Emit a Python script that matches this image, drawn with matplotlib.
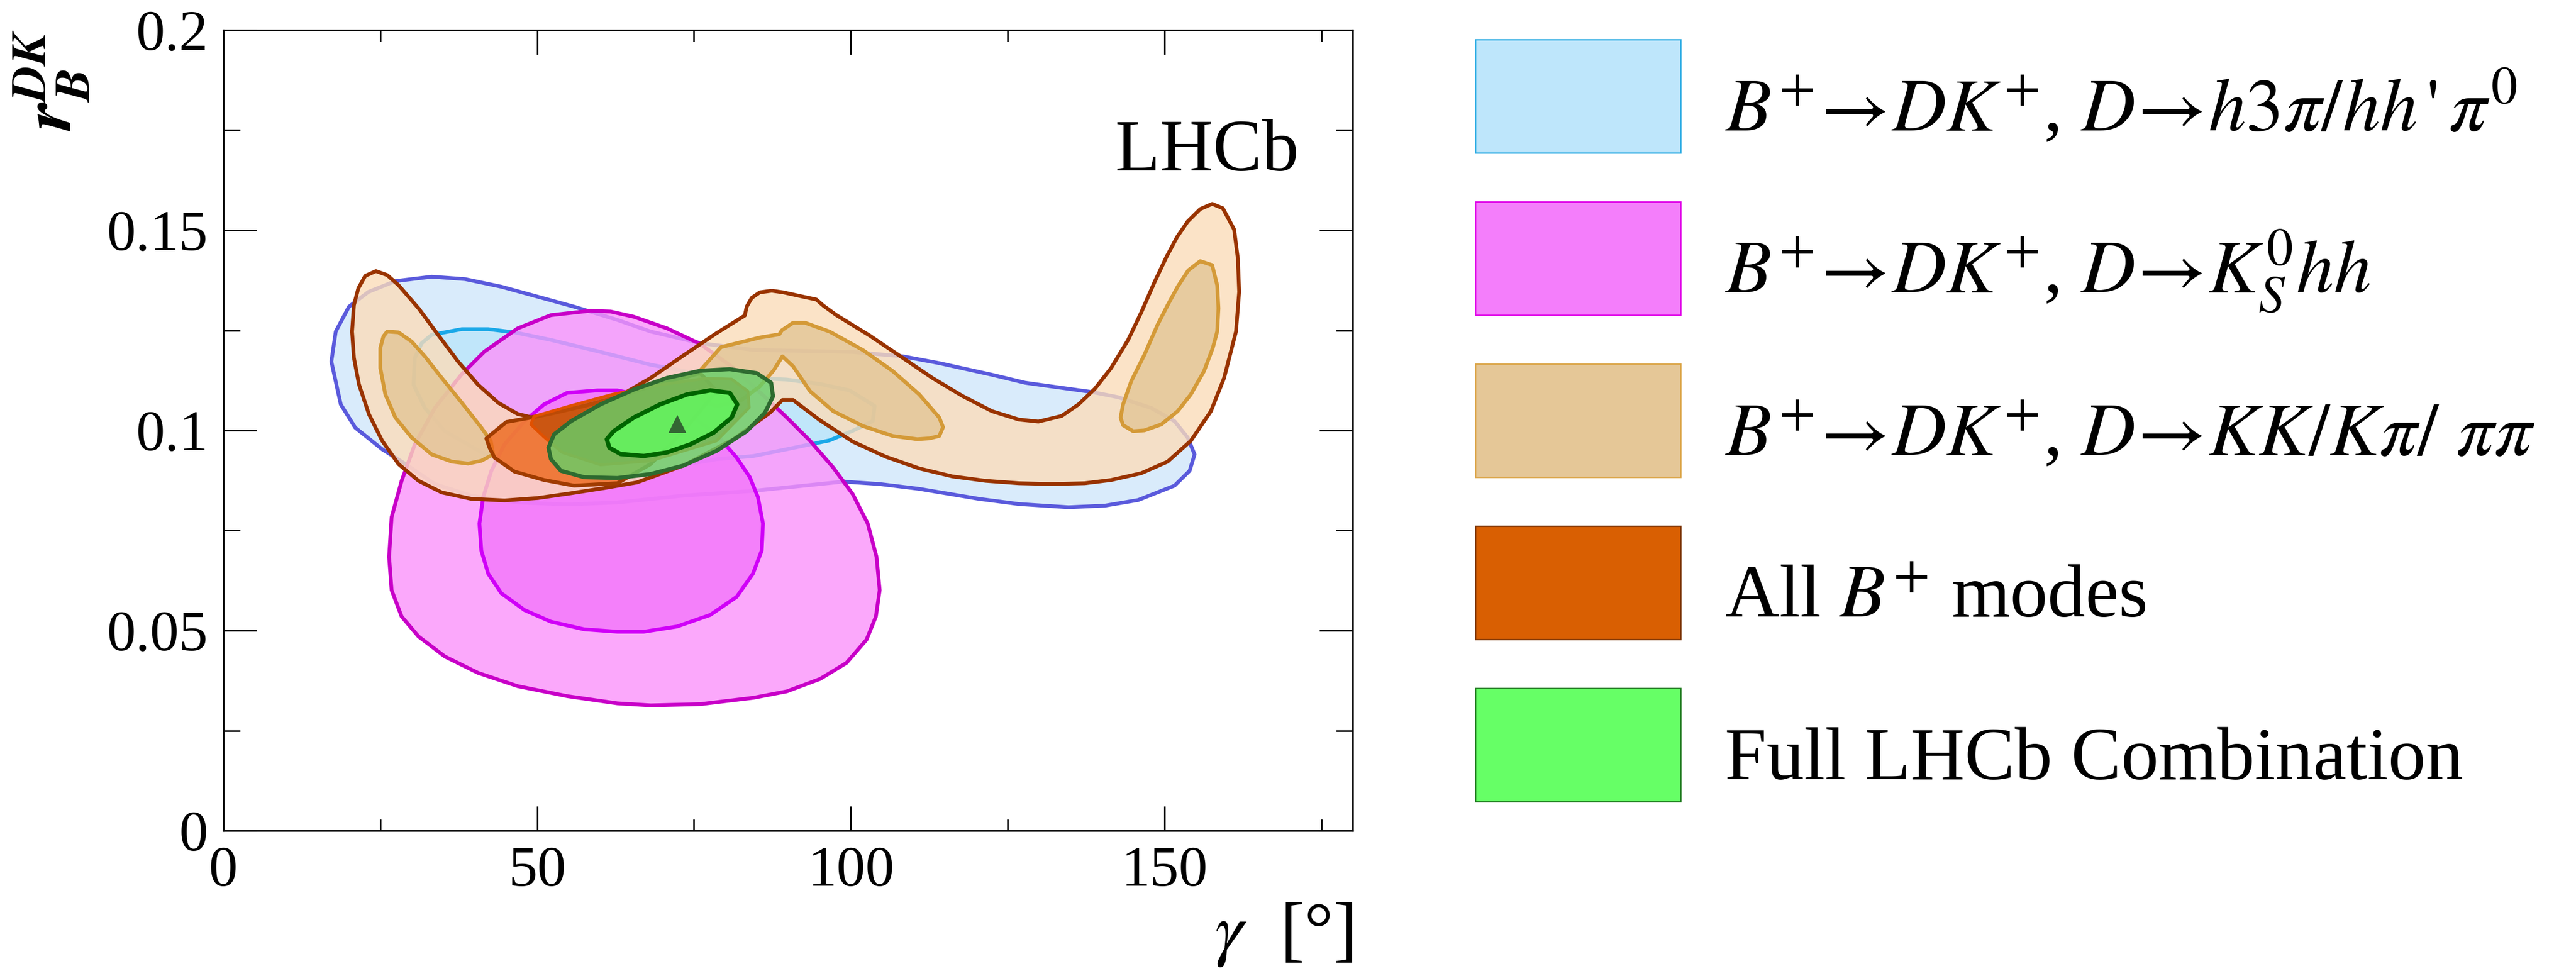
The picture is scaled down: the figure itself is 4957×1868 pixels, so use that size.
import numpy as np
import matplotlib
matplotlib.use("Agg")
import matplotlib.pyplot as plt
from matplotlib.patches import Polygon, Rectangle
from matplotlib.colors import to_rgb

plt.rcParams['font.family'] = ['Liberation Serif', 'DejaVu Serif']
plt.rcParams['mathtext.fontset'] = 'stix'

W, H, DPI = 4957, 1868, 200

# ---- confidence regions, points are (gamma [deg], r_B^DK) ----
# B+ -> DK+, D -> h3pi / hh'pi0
h3pi_2sig = [(17.2, 0.1172), (17.9, 0.1247), (20.0, 0.1309), (23.1, 0.1346), (27.4, 0.1373),
             (33.2, 0.1384), (38.5, 0.1378), (44.3, 0.1359), (50.1, 0.1334), (55.9, 0.1309),
             (62.8, 0.1276), (68.1, 0.1247), (76.0, 0.1218), (84.5, 0.1201), (100.3, 0.1196),
             (108.3, 0.1185), (114.1, 0.1168), (122.5, 0.1139), (127.8, 0.1119), (134.7, 0.1104),
             (138.4, 0.1096), (142.6, 0.1083), (147.9, 0.1056), (151.6, 0.1023), (153.7, 0.0982),
             (154.8, 0.0940), (154.0, 0.0899), (151.6, 0.0862), (145.8, 0.0826), (140.5, 0.0812),
             (134.7, 0.0808), (126.8, 0.0816), (120.4, 0.0829), (110.9, 0.0854), (104.6, 0.0866),
             (98.8, 0.0872), (84.5, 0.0849), (73.3, 0.0837), (62.8, 0.0820), (54.8, 0.0815),
             (46.9, 0.0820), (39.5, 0.0837), (33.7, 0.0866), (29.0, 0.0916), (25.3, 0.0953),
             (21.0, 0.1007), (18.7, 0.1065)]
h3pi_1sig = [(33.2, 0.1239), (38.0, 0.1253), (42.2, 0.1253), (46.4, 0.1245), (52.2, 0.1226),
             (60.1, 0.1196), (68.1, 0.1164), (76.0, 0.1141), (84.5, 0.1131), (89.8, 0.1127),
             (95.1, 0.1116), (99.8, 0.1100), (103.8, 0.1061), (103.5, 0.1023), (100.3, 0.0999),
             (96.6, 0.0975), (89.8, 0.0953), (84.5, 0.0936), (78.6, 0.0928), (70.7, 0.0907),
             (60.1, 0.0891), (49.6, 0.0899), (41.6, 0.0941), (35.3, 0.0998), (32.1, 0.1056),
             (30.3, 0.1114), (30.5, 0.1181), (31.6, 0.1218)]

# B+ -> DK+, D -> KS hh
kshh_2sig = [(58.5, 0.1299), (52.2, 0.1288), (46.9, 0.1255), (41.6, 0.1197), (37.9, 0.1139),
             (33.7, 0.1056), (30.5, 0.0965), (28.4, 0.0874), (26.8, 0.0783), (26.4, 0.0684),
             (26.8, 0.0601), (28.4, 0.0535), (31.1, 0.0485), (35.3, 0.0435), (40.6, 0.0394),
             (46.9, 0.0361), (54.8, 0.0336), (62.8, 0.0318), (68.1, 0.0313), (76.0, 0.0316),
             (84.5, 0.0332), (89.8, 0.0348), (95.1, 0.0379), (99.3, 0.0419), (102.5, 0.0477),
             (104.0, 0.0535), (104.6, 0.0601), (104.1, 0.0684), (102.7, 0.0767), (100.3, 0.0841),
             (97.2, 0.0907), (93.5, 0.0974), (89.8, 0.1032), (86.5, 0.1081), (81.3, 0.1156),
             (76.0, 0.1216), (70.7, 0.1255), (65.4, 0.1284), (61.7, 0.1297)]
kshh_1sig = [(59.6, 0.1100), (54.8, 0.1094), (51.1, 0.1065), (48.0, 0.1023), (44.8, 0.0965),
             (42.7, 0.0899), (41.4, 0.0833), (40.8, 0.0767), (41.1, 0.0700), (42.2, 0.0642),
             (44.3, 0.0593), (48.0, 0.0551), (52.2, 0.0522), (57.5, 0.0503), (62.8, 0.0497),
             (67.0, 0.0497), (72.3, 0.0510), (77.6, 0.0539), (81.8, 0.0584), (84.4, 0.0642),
             (85.8, 0.0700), (86.0, 0.0767), (85.2, 0.0833), (83.9, 0.0883), (81.8, 0.0932),
             (78.6, 0.0990), (74.9, 0.1032), (70.7, 0.1065), (65.9, 0.1090), (62.8, 0.1100)]

# B+ -> DK+, D -> KK / Kpi / pipi
hh_2sig = [(22.6, 0.1386), (24.3, 0.1398), (26.1, 0.1388), (27.9, 0.1363), (31.1, 0.1305),
           (34.2, 0.1239), (37.4, 0.1172), (40.6, 0.1114), (43.8, 0.1069), (46.9, 0.1041),
           (49.0, 0.1033), (52.2, 0.1041), (57.5, 0.1061), (62.8, 0.1083), (68.1, 0.1131),
           (73.3, 0.1187), (78.6, 0.1243), (83.1, 0.1287), (83.4, 0.1309), (84.2, 0.1331),
           (85.5, 0.1345), (87.4, 0.1349), (89.2, 0.1345), (92.4, 0.1334), (94.5, 0.1327),
           (95.6, 0.1312), (97.7, 0.1288), (103.0, 0.1237), (108.3, 0.1181), (113.0, 0.1131),
           (117.8, 0.1086), (122.5, 0.1048), (126.8, 0.1027), (129.9, 0.1022), (133.6, 0.1036),
           (136.3, 0.1065), (138.9, 0.1104), (141.5, 0.1156), (144.2, 0.1226), (146.3, 0.1295),
           (148.4, 0.1370), (150.3, 0.1433), (152.0, 0.1483), (153.7, 0.1522), (155.7, 0.1553),
           (157.6, 0.1566), (159.3, 0.1555), (161.1, 0.1502), (161.7, 0.1429), (161.9, 0.1346),
           (161.4, 0.1247), (159.5, 0.1131), (157.4, 0.1048), (154.2, 0.0974), (150.5, 0.0922),
           (146.3, 0.0893), (141.5, 0.0876), (137.3, 0.0868), (132.0, 0.0866), (126.8, 0.0868),
           (121.5, 0.0874), (116.2, 0.0885), (110.9, 0.0905), (105.6, 0.0934), (100.3, 0.0972),
           (95.1, 0.1025), (90.8, 0.1076), (89.1, 0.1076), (87.1, 0.1044), (81.3, 0.0978),
           (73.3, 0.0912), (65.9, 0.0870), (60.7, 0.0856), (55.4, 0.0843), (50.1, 0.0831),
           (44.8, 0.0825), (39.5, 0.0829), (34.8, 0.0845), (31.1, 0.0874), (27.9, 0.0916),
           (25.3, 0.0974), (23.2, 0.1040), (21.6, 0.1115), (20.8, 0.1181), (20.5, 0.1247),
           (20.8, 0.1313), (21.5, 0.1355)]
hh_1sig_left = [(26.1, 0.1247), (27.9, 0.1245), (30.0, 0.1222), (32.1, 0.1185), (34.8, 0.1131),
                (38.0, 0.1069), (41.1, 0.1007), (42.6, 0.0974), (43.0, 0.0940), (41.1, 0.0924),
                (39.0, 0.0917), (36.4, 0.0922), (33.2, 0.0940), (30.0, 0.0982), (27.4, 0.1032),
                (25.8, 0.1090), (25.0, 0.1156), (25.0, 0.1206), (25.5, 0.1235)]
hh_1sig_mid = [(90.8, 0.1269), (92.7, 0.1269), (96.6, 0.1247), (101.9, 0.1201), (106.7, 0.1148),
               (110.9, 0.1090), (114.1, 0.1032), (114.7, 0.1008), (114.1, 0.0986), (112.5, 0.0980),
               (110.6, 0.0978), (106.7, 0.0986), (101.9, 0.1011), (97.2, 0.1048), (93.5, 0.1098),
               (90.8, 0.1160), (89.1, 0.1185), (87.7, 0.1150), (85.5, 0.1110), (82.5, 0.1075),
               (78.5, 0.1060), (76.0, 0.1080), (75.9, 0.1148), (79.3, 0.1208), (85.5, 0.1232),
               (88.6, 0.1240), (89.0, 0.1250)]
hh_1sig_right = [(155.7, 0.1423), (157.6, 0.1413), (158.4, 0.1363), (158.6, 0.1305), (158.4, 0.1247),
                 (157.7, 0.1206), (156.3, 0.1148), (154.2, 0.1090), (152.1, 0.1048), (149.5, 0.1015),
                 (146.8, 0.1000), (145.0, 0.0998), (143.4, 0.1013), (143.0, 0.1032), (143.4, 0.1065),
                 (144.7, 0.1123), (146.8, 0.1189), (148.9, 0.1264), (150.5, 0.1313), (152.1, 0.1359),
                 (153.8, 0.1400)]

# all B+ modes
bplus_2sig = [(41.9, 0.0980), (45.1, 0.1021), (50.1, 0.1035), (57.5, 0.1061), (62.8, 0.1083),
              (68.1, 0.1110), (76.0, 0.1143), (78.6, 0.1098), (73.3, 0.0998), (68.1, 0.0916),
              (62.8, 0.0868), (55.9, 0.0862), (51.1, 0.0876), (46.4, 0.0897), (43.2, 0.0932),
              (42.4, 0.0957)]
bplus_1sig = [(49.5, 0.1035), (55.0, 0.1060), (62.0, 0.1090), (70.0, 0.1115), (77.0, 0.1130),
              (81.0, 0.1128), (83.6, 0.1098), (83.8, 0.1057), (78.6, 0.0974), (68.1, 0.0924),
              (60.1, 0.0914), (54.0, 0.0945), (51.0, 0.0985), (49.0, 0.1015)]

# full LHCb combination
comb_2sig = [(51.8, 0.0957), (52.7, 0.0990), (55.4, 0.1023), (60.1, 0.1065), (65.4, 0.1102),
             (70.7, 0.1131), (76.0, 0.1149), (80.7, 0.1153), (85.0, 0.1143), (87.3, 0.1119),
             (87.6, 0.1085), (86.3, 0.1044), (83.4, 0.0998), (78.6, 0.0949), (73.3, 0.0912),
             (68.1, 0.0891), (62.8, 0.0881), (57.5, 0.0883), (53.8, 0.0899), (52.2, 0.0928)]
comb_1sig = [(61.1, 0.0978), (62.2, 0.0998), (65.4, 0.1032), (69.6, 0.1065), (73.9, 0.1090),
             (77.6, 0.1100), (80.7, 0.1094), (81.9, 0.1065), (81.0, 0.1032), (78.1, 0.0994),
             (74.4, 0.0965), (70.7, 0.0945), (67.0, 0.0936), (63.3, 0.0941), (61.5, 0.0957)]
best_fit = (72.3, 0.1015)

x_ticks = [0, 50, 100, 150]
x_ticklabels = ["0", "50", "100", "150"]
y_ticks = [0, 0.05, 0.1, 0.15, 0.2]
y_ticklabels = ["0", "0.05", "0.1", "0.15", "0.2"]

arrow = r"\!\rightarrow\!"
legend_labels = [
    rf"$B^{{+}}{arrow}DK^{{+}}$, $D{arrow}h\mathit{{3}}\pi/hh\,\text{{'}}\,\pi^{{\mathit{{0}}}}$",
    rf"$B^{{+}}{arrow}DK^{{+}}$, $D{arrow}K^{{\mathit{{0}}}}_{{S}}hh$",
    rf"$B^{{+}}{arrow}DK^{{+}}$, $D{arrow}KK/K\pi/\ \pi\pi$",
    r"All $B^{+}$ modes",
    "Full LHCb Combination",
]
legend_face = ["#bee6fb", "#f47efb", "#e5c797", "#d95f02", "#66ff66"]
legend_edge = ["#2aabe3", "#e000e8", "#dba445", "#7a3305", "#1e7a1e"]


def fill_for(target, under, a):
    """face colour that gives `target` when drawn with alpha `a` on `under`"""
    t, u = np.array(to_rgb(target)), np.array(to_rgb(under))
    return tuple(np.clip((t - (1 - a) * u) / a, 0, 1)) + (a,)


A = 0.8
layers = [
    # points, apparent colour, colour underneath, edge, linewidth
    (h3pi_2sig, "#d9ecfc", "#ffffff", "#5a5adc", 2.6),
    (h3pi_1sig, "#c0e6fa", "#d9ecfc", "#1aa8e8", 2.6),
    (kshh_2sig, "#fca9fc", "#ffffff", "#c800c8", 2.6),
    (kshh_1sig, "#f580fa", "#fca9fc", "#d000f8", 2.6),
    (hh_2sig, "#fce3c8", "#ffffff", "#993300", 2.6),
    (hh_1sig_left, "#e8cb9f", "#fce3c8", "#d49a38", 2.6),
    (hh_1sig_mid, "#e8cb9f", "#fce3c8", "#d49a38", 2.6),
    (hh_1sig_right, "#e8cb9f", "#fce3c8", "#d49a38", 2.6),
    (bplus_2sig, "#f0803c", "#fce3c8", "#a03c00", 2.6),
    (bplus_1sig, "#cc5812", "#f0803c", "#e05000", 2.0),
    (comb_2sig, "#80c060", "#f0803c", "#2e6b30", 2.8),
    (comb_1sig, "#68ee60", "#80c060", "#006400", 3.0),
]

fig = plt.figure(figsize=(W / DPI, H / DPI), dpi=DPI, facecolor="white")
ax = fig.add_axes([430 / W, 1 - 1598 / H, (2603 - 430) / W, (1598 - 58) / H])

for pts, look, under, edge, lw in layers:
    poly = Polygon(np.array(pts), closed=True, facecolor=fill_for(look, under, A),
                   edgecolor=edge, linewidth=lw, joinstyle="round")
    ax.add_patch(poly)

ax.plot(best_fit[0], best_fit[1], marker="^", color="#336633", ms=11, ls="none")

ax.set_xlim(0, 180)
ax.set_ylim(0, 0.2)
ax.set_xticks(x_ticks)
ax.set_xticklabels(x_ticklabels)
ax.set_xticks(np.arange(0, 181, 25), minor=True)
ax.set_yticks(y_ticks)
ax.set_yticklabels(y_ticklabels)
ax.set_yticks(np.arange(0, 0.2001, 0.025), minor=True)

ax.tick_params(which="both", direction="in", top=True, right=True, width=1.1,
               labelsize=40, pad=10.5)
ax.tick_params(axis="x", which="major", length=17)
ax.tick_params(axis="x", which="minor", length=8)
ax.tick_params(axis="y", which="major", length=23)
ax.tick_params(axis="y", which="minor", length=11.5)
for sp in ax.spines.values():
    sp.set_linewidth(1.2)

ax.text(0.9526, 0.8247, "LHCb", transform=ax.transAxes, ha="right", va="baseline", fontsize=51)
ax.text(1.0, -0.1526, r"$\gamma$  [°]", transform=ax.transAxes, ha="right", va="baseline",
        fontsize=50)
fig.text(175 / W, 1 - 252 / H, r"$\mathbfit{r}_{\mathbfit{B}}^{\mathbfit{DK}}$", rotation=90,
         ha="right", va="bottom", fontsize=49)

# legend boxes on the right
for i, (lab, fc, ec) in enumerate(zip(legend_labels, legend_face, legend_edge)):
    top = 76 + 312 * i
    fig.add_artist(Rectangle((2839 / W, 1 - (top + 218) / H), (3234 - 2839) / W, 218 / H,
                             transform=fig.transFigure, facecolor=fc, edgecolor=ec, linewidth=0.9))
    fig.text(3319 / W, 1 - (top + 109 + 66) / H, lab, ha="left", va="baseline", fontsize=52)

fig.savefig("out.png", dpi=DPI, facecolor="white")
